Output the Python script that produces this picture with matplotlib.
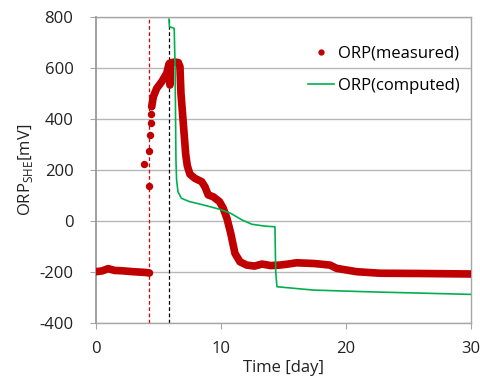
import numpy as np
import matplotlib
matplotlib.use('Agg')
import matplotlib.pyplot as plt
from matplotlib.lines import Line2D

plt.rcParams['font.family'] = ['Open Sans', 'DejaVu Sans']
plt.rcParams['axes.unicode_minus'] = False

# measured ORP, continuous part (day, mV)
meas_day_a = [0.0, 0.5, 1.0, 1.5, 2.0, 3.0, 4.0, 4.3]
meas_orp_a = [-200, -197, -188, -195, -196, -200, -203, -205]

# scattered points during the jump
jump_day = [3.89, 4.29, 4.29, 4.37, 4.40, 4.42]
jump_orp = [222, 136, 273, 336, 384, 418]

# measured ORP after the jump
meas_day_b = [4.48, 4.61, 4.88, 5.28, 5.68, 5.81, 5.89, 5.94, 5.96, 6.08, 6.35, 6.61,
              6.74, 6.82, 6.93, 7.09, 7.20, 7.33, 7.54, 7.94, 8.48, 8.74, 9.0, 9.4,
              9.9, 10.2, 10.5, 10.8, 11.14, 11.54, 12.08, 12.7, 13.3, 14.0, 14.74,
              15.4, 16.08, 17.5, 18.74, 19.28, 20.88, 22.74, 25.9, 30.0]
meas_orp_b = [447, 486, 519, 545, 578, 604, 617, 532, 615, 620, 622, 620,
              604, 500, 430, 330, 260, 215, 182, 166, 153, 133, 101, 94,
              75, 49, 9, -49, -128, -161, -174, -178, -170, -176, -174,
              -170, -165, -168, -174, -187, -200, -206, -207, -209]

# computed ORP
comp_day = [5.86, 5.90, 6.28, 6.35, 6.42, 6.47, 6.58, 6.85, 7.5, 8.6, 9.9, 10.8,
            11.7, 12.5, 13.5, 14.34, 14.40, 14.5, 17.4, 21.9, 26.0, 30.0]
comp_orp = [790, 761, 754, 600, 237, 160, 114, 88, 75, 62, 45, 29,
            3, -14, -21, -24, -200, -259, -272, -279, -284, -289]

red = '#c00000'
green = '#00b050'

fig = plt.figure(figsize=(4.8, 3.78), dpi=100)
ax = fig.add_axes([0.1994, 0.1463, 0.7812, 0.8095])

ax.axvline(4.29, color='#e00000', lw=0.9, ls=(0, (3, 2)), zorder=1)
ax.axvline(5.86, color='black', lw=0.9, ls=(0, (3, 2)), zorder=1)

ax.plot(meas_day_a, meas_orp_a, color=red, lw=5.5, solid_capstyle='round',
        solid_joinstyle='round', zorder=3)
ax.plot(meas_day_b, meas_orp_b, color=red, lw=5.5, solid_capstyle='round',
        solid_joinstyle='round', zorder=3)
ax.plot(jump_day, jump_orp, 'o', color=red, ms=4.3, zorder=3)
ax.plot(comp_day, comp_orp, color=green, lw=1.2, zorder=4)

ax.set_xlim(0, 30)
ax.set_ylim(-400, 800)
ax.set_xticks([0, 10, 20, 30])
ax.set_yticks(np.arange(-400, 801, 200))
ax.grid(axis='y', color='#b8b8b8', lw=1.0)
ax.set_axisbelow(True)
for s in ax.spines.values():
    s.set_color('#a6a6a6')
    s.set_linewidth(1.0)
ax.spines['left'].set_color('#999999')
ax.spines['left'].set_linewidth(1.3)
ax.tick_params(direction='out', length=4, color='#a6a6a6', labelsize=12,
               labelcolor='#222222')
ax.tick_params(axis='y', pad=12)
ax.tick_params(axis='x', pad=9)

ax.set_xlabel('Time [day]', fontsize=12, color='#222222', labelpad=2)
ax.set_ylabel('ORP$_{\\mathregular{SHE}}$[mV]', fontsize=12, color='#222222', labelpad=3)

handles = [Line2D([], [], marker='o', ls='', color=red, ms=3.5),
           Line2D([], [], color=green, lw=1.2)]
ax.legend(handles, ['ORP(measured)', 'ORP(computed)'], loc='upper right',
          bbox_to_anchor=(1.01, 0.955), frameon=False, fontsize=12,
          handlelength=1.6, handletextpad=0.2, labelspacing=1.0)

fig.savefig('out.png', dpi=100)
